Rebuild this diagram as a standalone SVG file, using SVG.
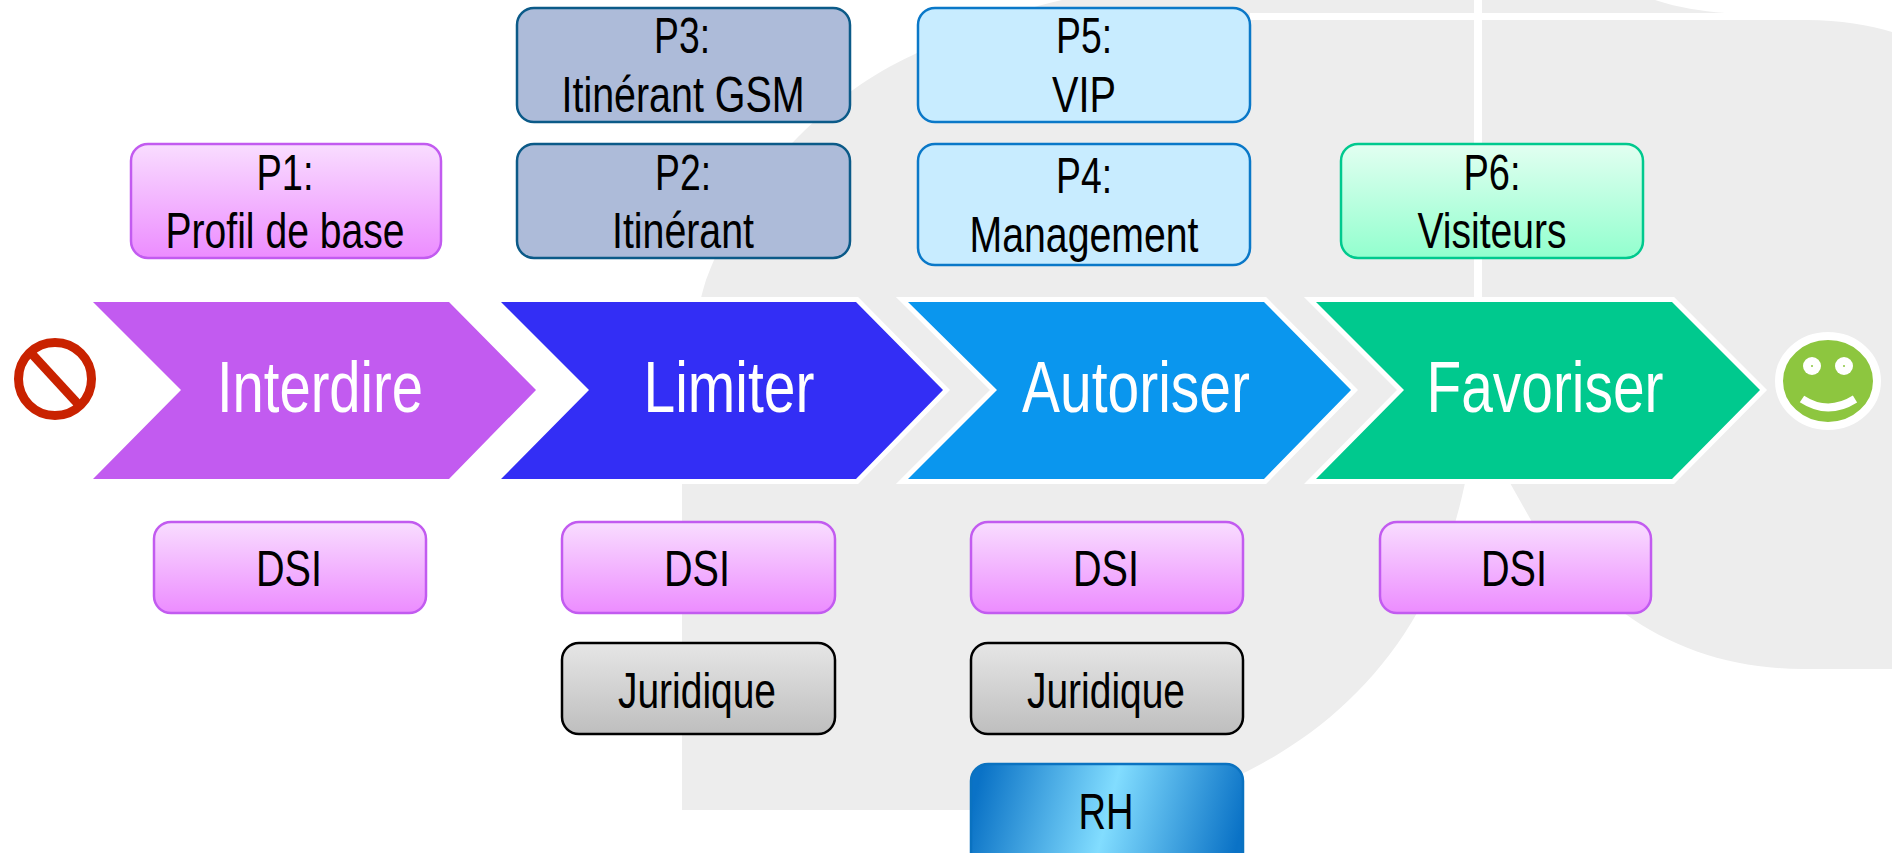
<svg xmlns="http://www.w3.org/2000/svg" width="1892" height="853" viewBox="0 0 1892 853">
<style>
text{font-family:"Liberation Sans",Arial,sans-serif;text-anchor:middle}
.t{font-size:50px;fill:#000}
.c{font-size:72px;fill:#fff}
.box{stroke-width:2.5}
.pink{fill:url(#gPink);stroke:#C25BF0}
.navy{fill:#ADBBD9;stroke:#0B5A88}
.sky{fill:#C8ECFF;stroke:#0A78C8}
.mint{fill:url(#gMint);stroke:#00C98E}
.grey{fill:url(#gGrey);stroke:#000}
.rh{fill:url(#gRh);stroke:#0A72C0}
.chev{stroke:#fff;stroke-width:10;paint-order:stroke;stroke-miterlimit:10}
</style>
<defs>
<linearGradient id="gPink" x1="0" y1="0" x2="0" y2="1"><stop offset="0" stop-color="#F9DDFF"/><stop offset="1" stop-color="#EC8CFF"/></linearGradient>
<linearGradient id="gMint" x1="0" y1="0" x2="0" y2="1"><stop offset="0" stop-color="#E2FFF1"/><stop offset="1" stop-color="#92FFCE"/></linearGradient>
<linearGradient id="gGrey" x1="0" y1="0" x2="0" y2="1"><stop offset="0" stop-color="#E6E6E6"/><stop offset="1" stop-color="#BEBEBE"/></linearGradient>
<linearGradient id="gRh" x1="0" y1="0.45" x2="1" y2="0.55"><stop offset="0" stop-color="#0A72C6"/><stop offset="0.5" stop-color="#82DDFF"/><stop offset="1" stop-color="#0A72C6"/></linearGradient>
</defs>
<g id="background">
<path fill="#EDEDED" d="M682,810 V480 C684,410 690,330 706,280 C730,215 765,170 798,137 C835,100 870,75 913,55 C960,30 1010,12 1062,0 H1655 C1680,8 1700,11 1725,13 V20 H1807 C1840,20 1870,25 1892,32 V669 H1803 C1735,669 1675,650 1624,613 C1580,585 1550,550 1532,522 L1510,483 H1465 C1455,530 1440,575 1417,613 C1385,670 1335,720 1280,753 C1240,778 1170,810 1100,810 Z"/>
<rect x="1250" y="13" width="642" height="7" fill="#fff"/>
<rect x="1474" y="0" width="8" height="310" fill="#fff"/>
</g>
<g id="connectors"></g>
<g id="chevron-interdire"><path class="chev" fill="#C25BF0" d="M93,302 H449 L536,390 L449,479 H93 L181,390 Z" style="stroke:none"/><text class="c" x="320" y="412" textLength="206" lengthAdjust="spacingAndGlyphs">Interdire</text></g>
<g id="chevron-limiter"><path class="chev" fill="#332EF5" d="M501,302 H856 L943,390 L856,479 H501 L589,390 Z"/><text class="c" x="729" y="412" textLength="171" lengthAdjust="spacingAndGlyphs">Limiter</text></g>
<g id="chevron-autoriser"><path class="chev" fill="#0A96EE" d="M908,302 H1264 L1351,390 L1264,479 H908 L997,390 Z"/><text class="c" x="1136" y="412" textLength="228" lengthAdjust="spacingAndGlyphs">Autoriser</text></g>
<g id="chevron-favoriser"><path class="chev" fill="#00C98E" d="M1316,302 H1672 L1760,390 L1672,479 H1316 L1404,390 Z"/><text class="c" x="1545" y="412" textLength="237" lengthAdjust="spacingAndGlyphs">Favoriser</text></g>
<g id="icon-forbidden" fill="none" stroke="#C92200" stroke-width="9"><circle cx="55" cy="379" r="36.5"/><line x1="32" y1="354" x2="78" y2="404"/></g>
<g id="icon-smiley"><ellipse cx="1828" cy="381" rx="49" ry="45" fill="#8DC63F" stroke="#fff" stroke-width="8"/><ellipse cx="1812" cy="366" rx="9" ry="9" fill="#fff"/><ellipse cx="1844" cy="366" rx="9" ry="9" fill="#fff"/><circle cx="1812" cy="366" r="1" fill="#8DC63F"/><circle cx="1844" cy="366" r="1" fill="#8DC63F"/><path d="M1802,399 Q1828,416 1855,399" fill="none" stroke="#fff" stroke-width="8"/></g>
<g id="p1"><rect class="box pink" x="131" y="144" width="310" height="114" rx="17"/><text class="t" x="285" y="190" textLength="57" lengthAdjust="spacingAndGlyphs">P1:</text><text class="t" x="285" y="248" textLength="239" lengthAdjust="spacingAndGlyphs">Profil de base</text></g>
<g id="p3"><rect class="box navy" x="517" y="8" width="333" height="114" rx="17"/><text class="t" x="682" y="53" textLength="56" lengthAdjust="spacingAndGlyphs">P3:</text><text class="t" x="683" y="112" textLength="243" lengthAdjust="spacingAndGlyphs">Itinérant GSM</text></g>
<g id="p2"><rect class="box navy" x="517" y="144" width="333" height="114" rx="17"/><text class="t" x="683" y="190" textLength="56" lengthAdjust="spacingAndGlyphs">P2:</text><text class="t" x="683" y="248" textLength="142" lengthAdjust="spacingAndGlyphs">Itinérant</text></g>
<g id="p5"><rect class="box sky" x="918" y="8" width="332" height="114" rx="17"/><text class="t" x="1084" y="53" textLength="56" lengthAdjust="spacingAndGlyphs">P5:</text><text class="t" x="1084" y="112" textLength="64" lengthAdjust="spacingAndGlyphs">VIP</text></g>
<g id="p4"><rect class="box sky" x="918" y="144" width="332" height="121" rx="17"/><text class="t" x="1084" y="193" textLength="56" lengthAdjust="spacingAndGlyphs">P4:</text><text class="t" x="1084" y="252" textLength="229" lengthAdjust="spacingAndGlyphs">Management</text></g>
<g id="p6"><rect class="box mint" x="1341" y="144" width="302" height="114" rx="17"/><text class="t" x="1492" y="190" textLength="57" lengthAdjust="spacingAndGlyphs">P6:</text><text class="t" x="1492" y="248" textLength="149" lengthAdjust="spacingAndGlyphs">Visiteurs</text></g>
<g id="dsi1"><rect class="box pink" x="154" y="522" width="272" height="91" rx="17"/><text class="t" x="289" y="586" textLength="66" lengthAdjust="spacingAndGlyphs">DSI</text></g>
<g id="dsi2"><rect class="box pink" x="562" y="522" width="273" height="91" rx="17"/><text class="t" x="697" y="586" textLength="66" lengthAdjust="spacingAndGlyphs">DSI</text></g>
<g id="dsi3"><rect class="box pink" x="971" y="522" width="272" height="91" rx="17"/><text class="t" x="1106" y="586" textLength="66" lengthAdjust="spacingAndGlyphs">DSI</text></g>
<g id="dsi4"><rect class="box pink" x="1380" y="522" width="271" height="91" rx="17"/><text class="t" x="1514" y="586" textLength="66" lengthAdjust="spacingAndGlyphs">DSI</text></g>
<g id="juridique1"><rect class="box grey" x="562" y="643" width="273" height="91" rx="17"/><text class="t" x="697" y="708" textLength="158" lengthAdjust="spacingAndGlyphs">Juridique</text></g>
<g id="juridique2"><rect class="box grey" x="971" y="643" width="272" height="91" rx="17"/><text class="t" x="1106" y="708" textLength="158" lengthAdjust="spacingAndGlyphs">Juridique</text></g>
<g id="rh"><rect class="box rh" x="971" y="764" width="272" height="105" rx="17"/><text class="t" x="1106" y="829" textLength="55" lengthAdjust="spacingAndGlyphs">RH</text></g>
</svg>
